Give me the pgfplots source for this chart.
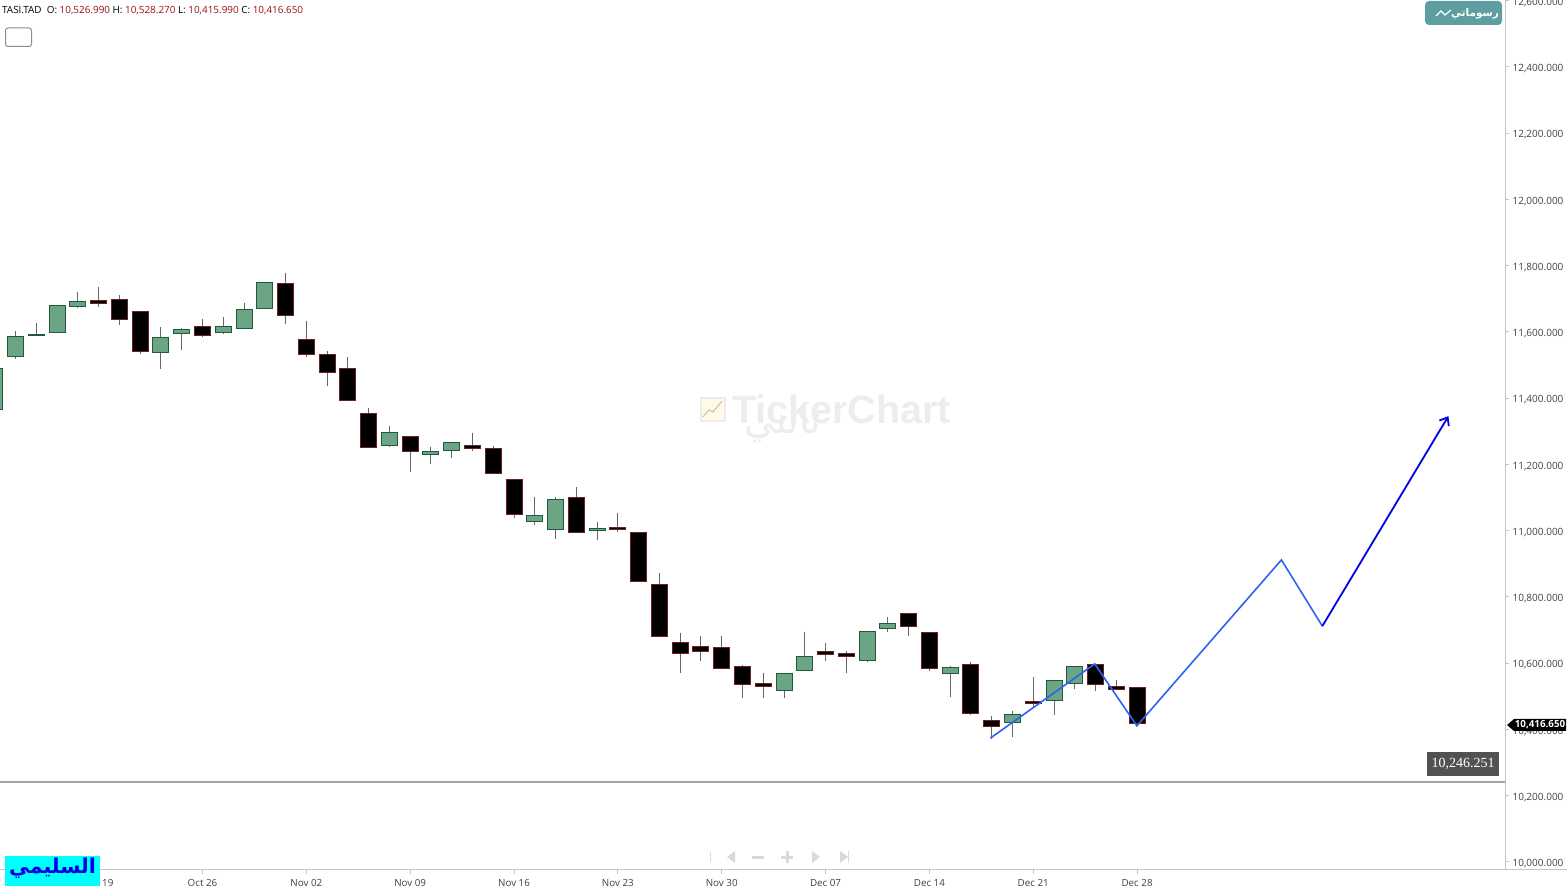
\documentclass[border=0pt]{standalone}
\usepackage{fontspec}
\usepackage{pgfplots}
\pgfplotsset{compat=1.18}
\usetikzlibrary{arrows.meta}
\setmainfont{Open Sans}
\newfontfamily\arabicfont[Script=Arabic]{DejaVu Sans}
\newfontfamily\tagfont{Liberation Serif}
\newfontfamily\wmfont{Liberation Sans}
\TeXXeTstate=1
\definecolor{upfill}{HTML}{6BA583}
\definecolor{upline}{HTML}{1F5A3C}
\definecolor{dnline}{HTML}{6E2020}
\definecolor{wick}{HTML}{666666}
\definecolor{axisgr}{HTML}{C4C4C4}
\definecolor{hdrred}{HTML}{990F0F}
\definecolor{dblue}{HTML}{2A64F0}
\definecolor{arrowblue}{HTML}{0000E6}
\definecolor{teal2}{HTML}{5F9EA0}
\definecolor{wm}{HTML}{EDEDED}
\definecolor{tagcyan}{HTML}{00FFFF}
\definecolor{tagblue}{HTML}{0000E0}
\definecolor{logoyel}{HTML}{FFF9E6}
\pgfplotsset{
  wickline/.style={draw=wick,line width=1pt,forget plot},
  upbody/.style={draw=upline,fill=upfill,line width=1pt,forget plot},
  dnbody/.style={draw=dnline,fill=black,line width=1pt,forget plot},
}
% candle: style, i, open, high, low, close
\newcommand\candle[6]{%
  \pgfmathsetmacro\xl{#2-0.385}\pgfmathsetmacro\xr{#2+0.385}%
  \edef\temp{\noexpand\addplot[wickline] coordinates {(#2,#4) (#2,#5)};
    \noexpand\addplot[#1] coordinates {(\xl,#3) (\xr,#3) (\xr,#6) (\xl,#6)} -- cycle;}%
  \temp}
\newcommand\up[5]{\candle{upbody}{#1}{#2}{#3}{#4}{#5}}
\newcommand\dn[5]{\candle{dnbody}{#1}{#2}{#3}{#4}{#5}}
\def\px(#1,#2){({#1*1pt},{(891-#2)*1pt})}
\begin{document}
\begin{tikzpicture}
\useasboundingbox (0,0) rectangle (1567pt,891pt);
\begin{axis}[
    at={(0pt,21pt)}, anchor=south west,
    scale only axis, width=1505pt, height=870pt,
    xmin=-9.75, xmax=62.716, ymin=9975.8, ymax=12602.3,
    axis x line*=bottom, axis y line*=right,
    axis line style={draw=axisgr,line width=1pt},
    every outer x axis line/.append style={-}, every outer y axis line/.append style={-},
    xtick={-5,0,...,45},
    xticklabels={Oct 19,Oct 26,Nov 02,Nov 09,Nov 16,Nov 23,Nov 30,Dec 07,Dec 14,Dec 21,Dec 28},
    ytick={10000,10200,...,12600},
    scaled y ticks=false,
    tick style={draw=axisgr,line width=1pt},
    tick align=outside, major tick length=4pt,
    x tick label style={font=\fontsize{9.8}{11}\selectfont,text=black!75,yshift=-1.6pt},
    y tick label style={font=\fontsize{10}{12}\selectfont,text=black!75,yshift=-1.6pt},
    /pgf/number format/fixed, /pgf/number format/fixed zerofill, /pgf/number format/precision=3,
    /pgf/number format/1000 sep={,}, /pgf/number format/assume math mode=true,
    clip=true,
]
\up{-10}{11367}{11490}{11367}{11490}
\up{-9}{11525}{11603}{11518}{11587}
\up{-8}{11588}{11626}{11587}{11593}
\up{-7}{11599}{11679}{11596}{11679}
\up{-6}{11678}{11720}{11673}{11693}
\dn{-5}{11695}{11736}{11676}{11685}
\dn{-4}{11699}{11711}{11620}{11639}
\dn{-3}{11661}{11661}{11534}{11541}
\up{-2}{11538}{11614}{11487}{11582}
\up{-1}{11595}{11612}{11545}{11608}
\dn{0}{11616}{11638}{11585}{11588}
\up{1}{11599}{11646}{11595}{11616}
\up{2}{11610}{11688}{11610}{11669}
\up{3}{11672}{11748}{11669}{11748}
\dn{4}{11747}{11777}{11624}{11651}
\dn{5}{11576}{11633}{11524}{11531}
\dn{6}{11531}{11544}{11437}{11478}
\dn{7}{11489}{11524}{11391}{11393}
\dn{8}{11355}{11370}{11251}{11252}
\up{9}{11258}{11316}{11254}{11298}
\dn{10}{11285}{11285}{11178}{11239}
\up{11}{11229}{11254}{11201}{11240}
\up{12}{11243}{11267}{11221}{11267}
\dn{13}{11258}{11294}{11242}{11249}
\dn{14}{11248}{11255}{11173}{11173}
\dn{15}{11156}{11156}{11039}{11048}
\up{16}{11029}{11101}{11018}{11047}
\up{17}{11004}{11101}{10975}{11095}
\dn{18}{11101}{11131}{10994}{10994}
\up{19}{11001}{11026}{10973}{11007}
\dn{20}{11011}{11054}{10995}{11005}
\dn{21}{10995}{10995}{10846}{10846}
\dn{22}{10838}{10873}{10681}{10681}
\dn{23}{10663}{10691}{10571}{10629}
\dn{24}{10651}{10683}{10608}{10635}
\dn{25}{10647}{10682}{10585}{10585}
\dn{26}{10591}{10595}{10494}{10537}
\dn{27}{10538}{10571}{10496}{10530}
\up{28}{10517}{10570}{10494}{10570}
\up{29}{10578}{10695}{10578}{10621}
\dn{30}{10636}{10661}{10608}{10627}
\dn{31}{10630}{10636}{10571}{10620}
\up{32}{10608}{10696}{10605}{10696}
\up{33}{10704}{10739}{10695}{10721}
\dn{34}{10749}{10751}{10683}{10710}
\dn{35}{10693}{10693}{10578}{10584}
\up{36}{10568}{10591}{10499}{10586}
\dn{37}{10597}{10604}{10445}{10448}
\dn{38}{10428}{10440}{10372}{10410}
\up{39}{10422}{10457}{10378}{10446}
\dn{40}{10485}{10558}{10469}{10478}
\up{41}{10487}{10549}{10444}{10549}
\up{42}{10538}{10591}{10523}{10591}
\dn{43}{10597}{10598}{10516}{10535}
\dn{44}{10529}{10549}{10519}{10520}
\dn{45}{10527}{10528}{10416}{10417}
% horizontal line
\addplot[draw=black!35,line width=1.5pt,forget plot] coordinates {(-9.75,10241) (62.716,10241)};
% drawn zigzag
\addplot[draw=dblue,line width=1.6pt,forget plot] coordinates {(37.94,10374) (42.96,10598) (44.99,10411) (51.95,10912) (53.92,10712)};
\addplot[draw=arrowblue,line width=1.8pt,-{Straight Barb[length=7pt,width=11pt]},forget plot] coordinates {(53.92,10712) (59.99,11346)};
\end{axis}
% bottom axis rule runs on under the price column
\draw[axisgr,line width=1pt] \px(1505,870) -- \px(1567,870);
% header
\node[anchor=west,inner sep=0pt,font=\fontsize{9.9}{11}\selectfont] at \px(2,10.3) {TASI.TAD\ \ O: \textcolor{hdrred}{10,526.990} H: \textcolor{hdrred}{10,528.270} L: \textcolor{hdrred}{10,415.990} C: \textcolor{hdrred}{10,416.650}};
\draw[black!45,line width=1pt,rounded corners=2.5pt] \px(5.5,28) rectangle \px(31.5,46.5);
% button top right
\fill[teal2,rounded corners=4pt] \px(1425,1) rectangle \px(1502,25);
\node[text=white,inner sep=0pt,font=\arabicfont\bfseries\fontsize{10.5}{13}\selectfont] at \px(1475,14) {\beginR رسوماتي\endR};
\draw[white,line width=1.2pt] \px(1436,16) -- \px(1441,11) -- \px(1445,15) -- \px(1451,10);
% watermark
\fill[wm] \px(700,397) rectangle \px(726,422);
\fill[logoyel] \px(702,399) rectangle \px(724,420);
\draw[wm!80!black,line width=1pt] \px(703,417) -- \px(709,410) -- \px(713,412) -- \px(722,401);
\node[inner sep=0pt,text=wm,font=\arabicfont\fontsize{38}{40}\selectfont] at \px(783,424) {\beginR تالني\endR};
\node[anchor=west,inner sep=0pt,text=wm,font=\wmfont\bfseries\fontsize{39.5}{41}\selectfont] at \px(732,409) {TickerChart};
% nav icons
\begin{scope}[draw=black!15,fill=black!15]
\draw[line width=1pt] \px(710,852) -- \px(710,862);
\fill \px(727,857) -- \px(735,851) -- \px(735,863) -- cycle;
\fill \px(752,856) rectangle \px(764,859);
\fill \px(781,856) rectangle \px(793,859);
\fill \px(785.5,851) rectangle \px(788.5,863);
\fill \px(820,857) -- \px(812,851) -- \px(812,863) -- cycle;
\fill \px(848,857) -- \px(840,851) -- \px(840,863) -- cycle;
\draw[line width=1pt] \px(848.5,851) -- \px(848.5,863);
\end{scope}
% price tags
\fill[black!68] \px(1427,752) rectangle \px(1499,776);
\node[text=white,inner sep=0pt,font=\tagfont\fontsize{14}{15}\selectfont] at \px(1463,764) {10,246.251};
\fill[black] \px(1507,725) -- \px(1514,719) -- \px(1566,719) -- \px(1566,731) -- \px(1514,731) -- cycle;
\node[text=white,inner sep=0pt,font=\bfseries\fontsize{9.8}{11}\selectfont] at \px(1540,725) {10,416.650};
% author tag
\fill[tagcyan] \px(5,856) rectangle \px(100,886);
\node[text=tagblue,inner sep=0pt,font=\arabicfont\bfseries\fontsize{20.5}{22}\selectfont] at \px(52.5,868.5) {\beginR السليمي\endR};
\end{tikzpicture}
\end{document}
